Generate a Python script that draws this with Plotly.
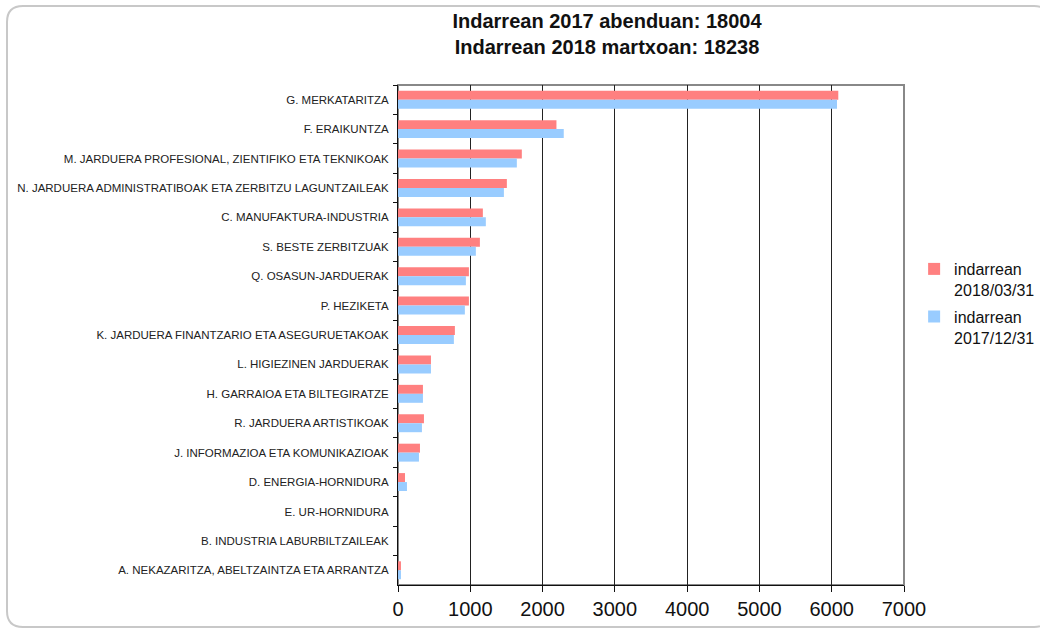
import plotly.graph_objects as go

categories = [
    "G. MERKATARITZA",
    "F. ERAIKUNTZA",
    "M. JARDUERA PROFESIONAL, ZIENTIFIKO ETA TEKNIKOAK",
    "N. JARDUERA ADMINISTRATIBOAK ETA ZERBITZU LAGUNTZAILEAK",
    "C. MANUFAKTURA-INDUSTRIA",
    "S. BESTE ZERBITZUAK",
    "Q. OSASUN-JARDUERAK",
    "P. HEZIKETA",
    "K. JARDUERA FINANTZARIO ETA ASEGURUETAKOAK",
    "L. HIGIEZINEN JARDUERAK",
    "H. GARRAIOA ETA BILTEGIRATZE",
    "R. JARDUERA ARTISTIKOAK",
    "J. INFORMAZIOA ETA KOMUNIKAZIOAK",
    "D. ENERGIA-HORNIDURA",
    "E. UR-HORNIDURA",
    "B. INDUSTRIA LABURBILTZAILEAK",
    "A. NEKAZARITZA, ABELTZAINTZA ETA ARRANTZA",
]
values_2018_03 = [6091, 2192, 1713, 1506, 1174, 1133, 981, 981, 787, 456, 345, 359, 304, 97, 0, 0, 41]
values_2017_12 = [6073, 2293, 1644, 1465, 1215, 1077, 939, 925, 773, 456, 345, 331, 290, 124, 0, 0, 41]
series_names = ["indarrean<br>2018/03/31", "indarrean<br>2017/12/31"]
series_colors = ["#FF8080", "#99CCFF"]
x_ticks = [0, 1000, 2000, 3000, 4000, 5000, 6000, 7000]
title_lines = ["Indarrean 2017 abenduan: 18004", "Indarrean 2018 martxoan: 18238"]

FONT = "Arial, 'Liberation Sans', sans-serif"

fig = go.Figure()
for i, (name, vals, col) in enumerate(zip(series_names, [values_2018_03, values_2017_12], series_colors)):
    fig.add_trace(go.Bar(
        y=categories, x=vals, name=name, orientation="h",
        legendgroup=f"g{i}",
        marker=dict(color=col, line=dict(width=0)),
    ))

L, R, T, B = 398, 904, 85, 585
W, H = R - L, B - T

def px_to_paper_x(px):
    return (px - L) / W

def px_to_paper_y(py):
    return (B - py) / H

x0, x1 = px_to_paper_x(7), px_to_paper_x(1050)
y0, y1 = px_to_paper_y(627), px_to_paper_y(6)
rx, ry = 16 / W, 16 / H
path = (f"M {x0+rx},{y1} L {x1-rx},{y1} Q {x1},{y1} {x1},{y1-ry} "
        f"L {x1},{y0+ry} Q {x1},{y0} {x1-rx},{y0} L {x0+rx},{y0} "
        f"Q {x0},{y0} {x0},{y0+ry} L {x0},{y1-ry} Q {x0},{y1} {x0+rx},{y1} Z")

fig.update_layout(
    width=1040, height=630,
    paper_bgcolor="white", plot_bgcolor="white",
    margin=dict(l=L, r=1040 - R, t=T, b=630 - B, autoexpand=False),
    barmode="group", bargap=0.39, bargroupgap=0,
    title=dict(
        text="<br>".join(title_lines),
        x=px_to_paper_x(607), xref="paper", xanchor="center",
        y=0.956, yanchor="top", automargin=False,
        font=dict(family=FONT, size=20, color="#111", weight="bold"),
    ),
    font=dict(family=FONT, color="#222"),
    legend=dict(
        x=1.02, xanchor="left", y=px_to_paper_y(252), yanchor="top",
        font=dict(family=FONT, size=16, color="#111"),
        valign="top", traceorder="grouped", tracegroupgap=3,
        itemwidth=30, bgcolor="rgba(0,0,0,0)",
    ),
    showlegend=True,
    shapes=[
        dict(type="rect", xref="paper", yref="paper", x0=0, x1=1, y0=0, y1=1,
             line=dict(color="#888888", width=2), layer="below"),
        dict(type="path", xref="paper", yref="paper", path=path,
             line=dict(color="#C8C8C8", width=2), layer="below"),
    ],
)

fig.update_xaxes(
    range=[0, 7000], tickvals=x_ticks, ticktext=[str(t) for t in x_ticks],
    showgrid=True, gridcolor="#222", gridwidth=1,
    showline=True, linecolor="#111", linewidth=1,
    ticks="outside", ticklen=6, tickcolor="#111",
    tickfont=dict(family=FONT, size=20, color="#111"),
    zeroline=False, fixedrange=True, automargin=False,
)
fig.update_yaxes(
    categoryorder="array", categoryarray=categories, autorange="reversed",
    showline=True, linecolor="#111", linewidth=1,
    ticks="outside", ticklen=4, tickcolor="#111", tickson="boundaries",
    ticklabelstandoff=6,
    tickfont=dict(family=FONT, size=11.5, color="#222"),
    showgrid=False, zeroline=False, fixedrange=True, automargin=False,
)

fig.write_html(
    "out.html",
    config={"displayModeBar": False},
    post_script="document.body.style.margin='0';document.body.style.overflow='hidden';",
)
